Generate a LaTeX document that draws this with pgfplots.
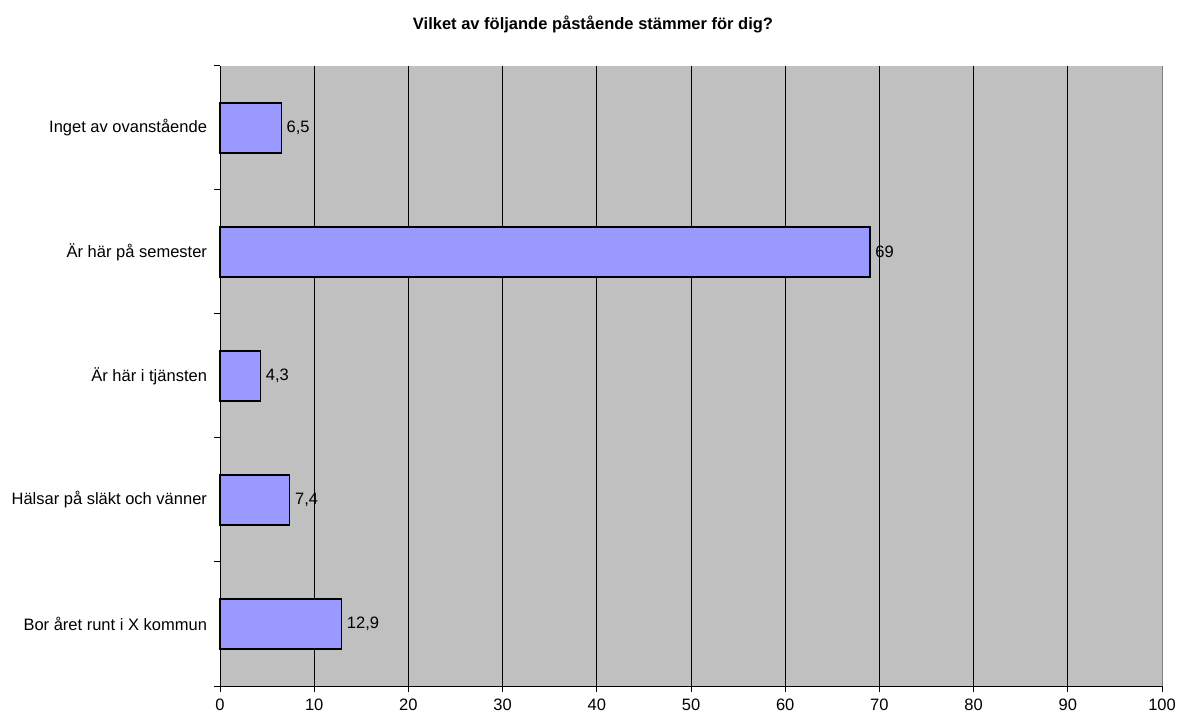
\documentclass[border=0pt]{standalone}
\usepackage{pgfplots}
\pgfplotsset{compat=1.18}
\usepackage{fontspec}
\setmainfont{Liberation Sans}
\definecolor{plotbg}{HTML}{C0C0C0}
\definecolor{barfill}{HTML}{9999FF}
\definecolor{rightedge}{HTML}{808080}
\begin{document}
\begin{tikzpicture}[font=\fontsize{16.5}{19}\selectfont]
\useasboundingbox (0,0) rectangle (1177pt,717pt);
\begin{axis}[
  at={(220pt,31pt)}, anchor=south west,
  width=942pt, height=620pt, scale only axis,
  xbar, bar width=50pt,
  xmin=0, xmax=100, ymin=-0.5, ymax=4.5,
  xtick={0,10,...,90},
  extra x ticks={100},
  extra x tick style={grid=none},
  ytick={-0.5,0.5,1.5,2.5,3.5,4.5}, yticklabels={},
  extra y ticks={0,1,2,3,4},
  extra y tick labels={Bor året runt i X kommun, Hälsar på släkt och vänner, Är här i tjänsten, Är här på semester, Inget av ovanstående},
  extra y tick style={grid=none, tick style={draw=none}, yticklabel style={xshift=-3.5pt}},
  axis x line*=bottom, axis y line*=left,
  axis line style={-, black, line width=1pt},
  tick align=outside, major tick length=6pt,
  tick style={black, line width=1pt},
  xmajorgrids, grid style={black, line width=0.8pt},
  axis background/.style={fill=plotbg},
  /pgf/number format/assume math mode=true,
  /pgf/number format/use comma,
  nodes near coords,
  every node near coord/.append style={black, xshift=1.5pt},
  xticklabel style={yshift=-3pt},
  clip=false,
]
\addplot[fill=barfill, draw=black, line width=1.2pt] coordinates {(12.9,0) (7.4,1) (4.3,2) (69,3) (6.5,4)};
\draw[rightedge, line width=1pt] (rel axis cs:1,0) -- (rel axis cs:1,1);
\end{axis}
\node[font=\bfseries\fontsize{16.5}{19}\selectfont] at (593pt,693pt) {Vilket av följande påstående stämmer för dig?};
\end{tikzpicture}
\end{document}
